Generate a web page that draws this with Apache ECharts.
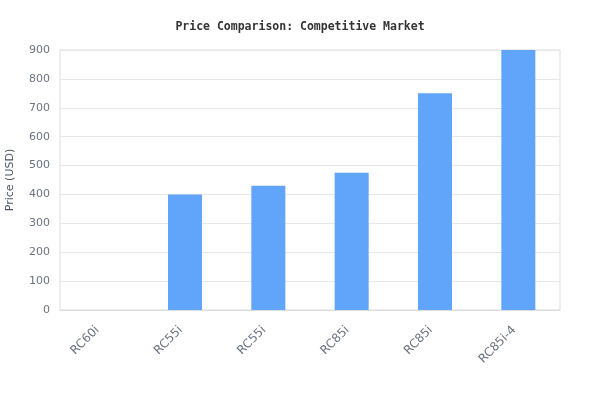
<!DOCTYPE html>
<html>
<head>
<meta charset="utf-8">
<script src="https://cdn.jsdelivr.net/npm/echarts@6/dist/echarts.min.js"></script>
<style>html,body{margin:0;padding:0;background:#fff;}#c{width:600px;height:420px;}</style>
</head>
<body>
<div id="c"></div>
<script>
const titleText = 'Price Comparison: Competitive Market';
const categories = ['RC60i', 'RC55i', 'RC55i', 'RC85i', 'RC85i', 'RC85i-4'];
const prices = [null, 400, 430, 475, 750, 900];
const yTicks = { min: 0, max: 900, interval: 100 };
const yName = 'Price (USD)';

const chart = echarts.init(document.getElementById('c'), null, { renderer: 'canvas' });
chart.setOption({
  animation: false,
  backgroundColor: '#ffffff',
  title: {
    text: titleText,
    left: 'center',
    top: 16,
    textStyle: { fontFamily: 'DejaVu Sans Mono, monospace', fontWeight: 'bold', fontSize: 11.5, color: '#333333' }
  },
  grid: { left: 60, right: 40, top: 50, bottom: 110, show: true, borderColor: '#dddddd', borderWidth: 1, containLabel: false, outerBoundsMode: 'none' },
  xAxis: {
    type: 'category',
    data: categories,
    axisLine: { show: true, lineStyle: { color: '#dddddd' } },
    axisTick: { show: false },
    axisLabel: { rotate: 45, color: '#6b7280', fontSize: 12, fontFamily: 'DejaVu Sans, sans-serif', margin: 14, padding: [0, 6, 0, 0] }
  },
  yAxis: {
    type: 'value',
    min: yTicks.min, max: yTicks.max, interval: yTicks.interval,
    name: yName,
    nameLocation: 'middle',
    nameGap: 44,
    nameTextStyle: { color: '#4b5563', fontSize: 11, fontFamily: 'DejaVu Sans, sans-serif' },
    axisLine: { show: false },
    axisTick: { show: false },
    axisLabel: { color: '#6b7280', fontSize: 11, fontFamily: 'DejaVu Sans, sans-serif', margin: 10 },
    splitLine: { lineStyle: { color: '#e5e7eb' } }
  },
  series: [{
    type: 'bar',
    data: prices,
    barWidth: 34,
    itemStyle: { color: '#60a5fa' }
  }]
});
</script>
</body>
</html>
